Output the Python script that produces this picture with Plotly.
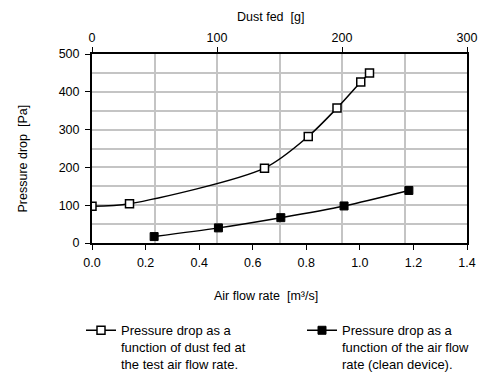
import plotly.graph_objects as go

dust_fed_g = [0, 30, 138, 173, 196, 215, 222]
dp_dust_pa = [97, 104, 198, 282, 357, 426, 450]

airflow_m3s = [0.232, 0.472, 0.705, 0.941, 1.183]
dp_clean_pa = [17, 40, 67, 98, 139]

name_dust = "Pressure drop as a<br>function of dust fed at<br>the test air flow rate."
name_clean = "Pressure drop as a<br>function of the air flow<br>rate (clean device)."

FONT = "Liberation Sans, Arial, sans-serif"

fig = go.Figure()
fig.add_trace(go.Scatter(
    x=dust_fed_g, y=dp_dust_pa, xaxis="x2", yaxis="y",
    mode="lines+markers", name=name_dust,
    line=dict(color="black", width=1.5, shape="spline", smoothing=0.8),
    marker=dict(symbol="square", size=8, color="white", line=dict(color="black", width=1.5)),
    legend="legend",
))
fig.add_trace(go.Scatter(
    x=airflow_m3s, y=dp_clean_pa, xaxis="x", yaxis="y",
    mode="lines+markers", name=name_clean,
    line=dict(color="black", width=1.5, shape="spline", smoothing=0.8),
    marker=dict(symbol="square", size=8, color="black", line=dict(color="black", width=1)),
    legend="legend2",
))

fig.update_layout(
    width=500, height=391,
    margin=dict(l=84, r=41, t=46, b=156, autoexpand=False),
    paper_bgcolor="white", plot_bgcolor="white",
    font=dict(family=FONT, size=12.5, color="black"),
    xaxis=dict(
        range=[0, 1.4], dtick=0.2, tick0=0, tickformat=".1f",
        showgrid=False, zeroline=False,
        showline=True, linecolor="black", linewidth=2,
        ticks="outside", ticklen=5, tickcolor="black", ticklabelstandoff=2,
    ),
    xaxis2=dict(
        range=[0, 300], overlaying="x", side="top",
        tickvals=[0, 100, 200, 300],
        showgrid=True, gridcolor="#c4c4c4", gridwidth=1.5,
        minor=dict(dtick=50, tick0=0, showgrid=True, gridcolor="#c4c4c4", gridwidth=1.5),
        zeroline=False,
        showline=True, linecolor="black", linewidth=2,
        ticks="outside", ticklen=5, tickcolor="black",
    ),
    yaxis=dict(
        range=[0, 500], dtick=100, tick0=0,
        showgrid=True, gridcolor="#c4c4c4", gridwidth=1.5,
        minor=dict(dtick=50, tick0=0, showgrid=True, gridcolor="#c4c4c4", gridwidth=1.5),
        zeroline=False,
        showline=True, linecolor="black", linewidth=2, mirror=True,
        ticks="outside", ticklen=5, tickcolor="black", ticklabelstandoff=3,
    ),
    annotations=[
        dict(
            text="Pressure drop  [Pa]", textangle=-90, showarrow=False,
            xref="paper", yref="paper", x=0, y=0.447,
            xanchor="center", yanchor="middle", xshift=-69,
            font=dict(size=12.5),
        ),
        dict(
            text="Dust fed  [g]", showarrow=False,
            xref="paper", yref="paper", x=0.476, y=1,
            xanchor="center", yanchor="middle", yshift=37,
            font=dict(size=12.5),
        ),
        dict(
            text="Air flow rate  [m³/s]", showarrow=False,
            xref="paper", yref="paper", x=0.465, y=0,
            xanchor="center", yanchor="middle", yshift=-53,
            font=dict(size=12.5),
        ),
    ],
    legend=dict(
        xref="container", yref="container",
        x=0.146, y=0.214, xanchor="left", yanchor="top",
        bgcolor="rgba(0,0,0,0)", font=dict(size=13), valign="top",
        tracegroupgap=0,
    ),
    legend2=dict(
        xref="container", yref="container",
        x=0.588, y=0.214, xanchor="left", yanchor="top",
        bgcolor="rgba(0,0,0,0)", font=dict(size=13), valign="top",
        tracegroupgap=0,
    ),
    showlegend=True,
)

fig.write_html("out.html")
